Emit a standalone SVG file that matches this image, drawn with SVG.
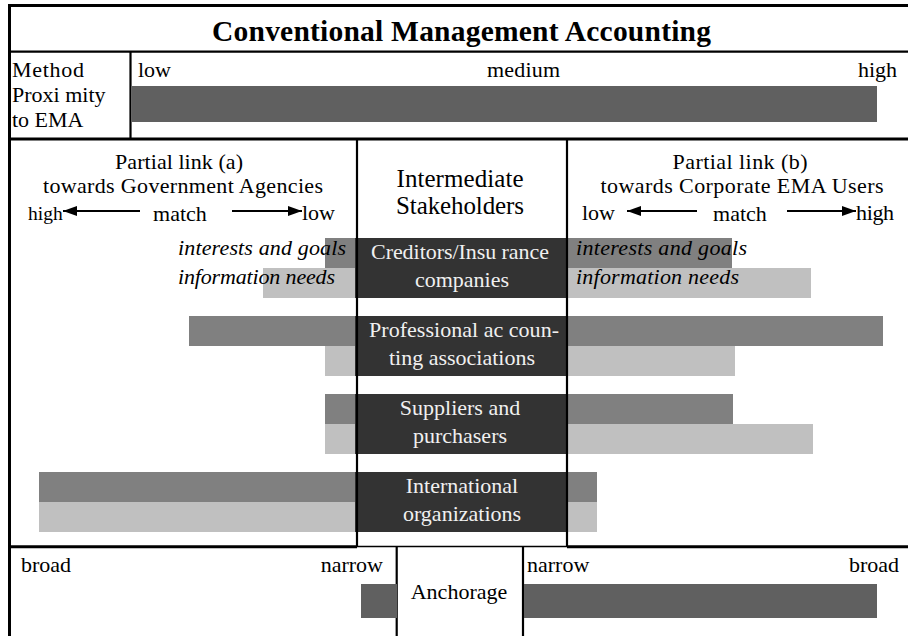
<svg xmlns="http://www.w3.org/2000/svg" width="908" height="636" viewBox="0 0 908 636">
<style>
text{font-family:"Liberation Serif","Times New Roman",serif;font-size:22px;fill:#000}
.t{font-size:29.5px;font-weight:bold}
.c{text-anchor:middle}
.e{text-anchor:end}
.i{font-style:italic}
.w{fill:#f0f0f0}
.big{font-size:25px}
.sm{font-size:19.5px}
.ln{stroke:#000;stroke-width:2.2;fill:none}
.thick{stroke:#000;stroke-width:3;fill:none}
.thin{stroke:#000;stroke-width:1.4;fill:none}
.mb{fill:#606060}
.g1{fill:#808080}
.g2{fill:#c0c0c0}
.dk{fill:#333333}
.arr{stroke:#000;stroke-width:2.2;fill:none;marker-end:url(#ah)}
</style>
<defs>
<marker id="ah" viewBox="0 0 14 10" refX="14" refY="5" markerWidth="14" markerHeight="10" markerUnits="userSpaceOnUse" orient="auto">
<path d="M0,0 L14,5 L0,10 Z" fill="#000"/>
</marker>
</defs>
<rect width="908" height="636" fill="#fff"/>

<g id="title">
<text class="t c" x="461.5" y="41" textLength="499">Conventional Management Accounting</text>
</g>

<g id="method-proximity">
<text x="12" y="77" textLength="72">Method</text>
<text x="12" y="102">Proxi mity</text>
<text x="12" y="127">to EMA</text>
<text x="138" y="77">low</text>
<text x="487" y="77" textLength="73">medium</text>
<text class="e" x="897" y="77">high</text>
<rect class="mb" x="132" y="86" width="745" height="36"/>
</g>

<g id="stakeholder-bars">
<rect class="g1" x="325" y="238" width="31" height="30"/>
<rect class="g2" x="263" y="268" width="93" height="30"/>
<rect class="g1" x="566" y="238" width="166" height="30"/>
<rect class="g2" x="566" y="268" width="245" height="30"/>

<rect class="g1" x="189" y="316" width="167" height="30"/>
<rect class="g2" x="325" y="346" width="31" height="30"/>
<rect class="g1" x="566" y="316" width="317" height="30"/>
<rect class="g2" x="566" y="346" width="169" height="30"/>

<rect class="g1" x="325" y="394" width="31" height="30"/>
<rect class="g2" x="325" y="424" width="31" height="30"/>
<rect class="g1" x="566" y="394" width="167" height="30"/>
<rect class="g2" x="566" y="424" width="247" height="30"/>

<rect class="g1" x="39" y="472" width="317" height="30"/>
<rect class="g2" x="39" y="502" width="317" height="30"/>
<rect class="g1" x="566" y="472" width="31" height="30"/>
<rect class="g2" x="566" y="502" width="31" height="30"/>
</g>

<g id="creditors">
<rect class="dk" x="355" y="238" width="211" height="60"/>
<text class="c w" x="460" y="259" textLength="178">Creditors/Insu rance</text>
<text class="c w" x="462" y="287">companies</text>
</g>
<g id="professional">
<rect class="dk" x="355" y="316" width="211" height="60"/>
<text class="c w" x="464" y="337" textLength="190">Professional ac coun-</text>
<text class="c w" x="462" y="365">ting associations</text>
</g>
<g id="suppliers">
<rect class="dk" x="355" y="394" width="211" height="60"/>
<text class="c w" x="460" y="415">Suppliers and</text>
<text class="c w" x="460" y="443">purchasers</text>
</g>
<g id="international">
<rect class="dk" x="355" y="472" width="211" height="60"/>
<text class="c w" x="462" y="493">International</text>
<text class="c w" x="462" y="521">organizations</text>
</g>

<g id="frame">
<line class="thick" x1="9" y1="5.5" x2="908" y2="5.5"/>
<line class="thick" x1="9.5" y1="4" x2="9.5" y2="636"/>
<line class="ln" x1="9" y1="51.7" x2="908" y2="51.7"/>
<line class="ln" x1="130.5" y1="51.7" x2="130.5" y2="139"/>
<line class="thick" x1="9" y1="139" x2="908" y2="139"/>
<line class="ln" x1="357" y1="139" x2="357" y2="547"/>
<line class="ln" x1="567" y1="139" x2="567" y2="547"/>
<line class="thick" x1="9" y1="546.7" x2="357" y2="546.7"/>
<line class="thin" x1="357" y1="546.5" x2="567" y2="546.5"/>
<line class="thick" x1="567" y1="546.7" x2="908" y2="546.7"/>
<line class="ln" x1="396.7" y1="546" x2="396.7" y2="636"/>
<line class="ln" x1="523" y1="546" x2="523" y2="636"/>
</g>

<g id="partial-link-a">
<text class="c" x="179" y="169" textLength="128">Partial link (a)</text>
<text class="c" x="183" y="193" textLength="280">towards Government Agencies</text>
<text class="sm" x="28" y="220">high</text>
<text class="c" x="180" y="221">match</text>
<text x="302" y="220">low</text>
<text class="i e" x="346" y="255" textLength="168">interests and goals</text>
<text class="i" x="178" y="284" textLength="157">information needs</text>
</g>

<g id="intermediate-stakeholders">
<text class="c big" x="460" y="187" textLength="127">Intermediate</text>
<text class="c big" x="460" y="214" textLength="128">Stakeholders</text>
</g>

<g id="partial-link-b">
<text class="c" x="740" y="169" textLength="135">Partial link (b)</text>
<text class="c" x="742" y="193" textLength="283">towards Corporate EMA Users</text>
<text x="582" y="220">low</text>
<text class="c" x="740" y="221">match</text>
<text x="856" y="220" textLength="38">high</text>
<text class="i" x="576" y="255" textLength="171">interests and goals</text>
<text class="i" x="576" y="284" textLength="163">information needs</text>
</g>

<g id="connectors">
<line class="arr" x1="140" y1="211" x2="63" y2="211"/>
<line class="arr" x1="232" y1="211" x2="302" y2="211"/>
<line class="arr" x1="697" y1="211" x2="627" y2="211"/>
<line class="arr" x1="787" y1="211" x2="856" y2="211"/>
</g>

<g id="anchorage">
<text x="21" y="572">broad</text>
<text class="e" x="383" y="572">narrow</text>
<text x="527" y="572">narrow</text>
<text class="e" x="899" y="572">broad</text>
<text class="c" x="459" y="599">Anchorage</text>
<rect class="mb" x="361" y="584" width="36" height="34"/>
<rect class="mb" x="524" y="584" width="353" height="34"/>
</g>
</svg>
